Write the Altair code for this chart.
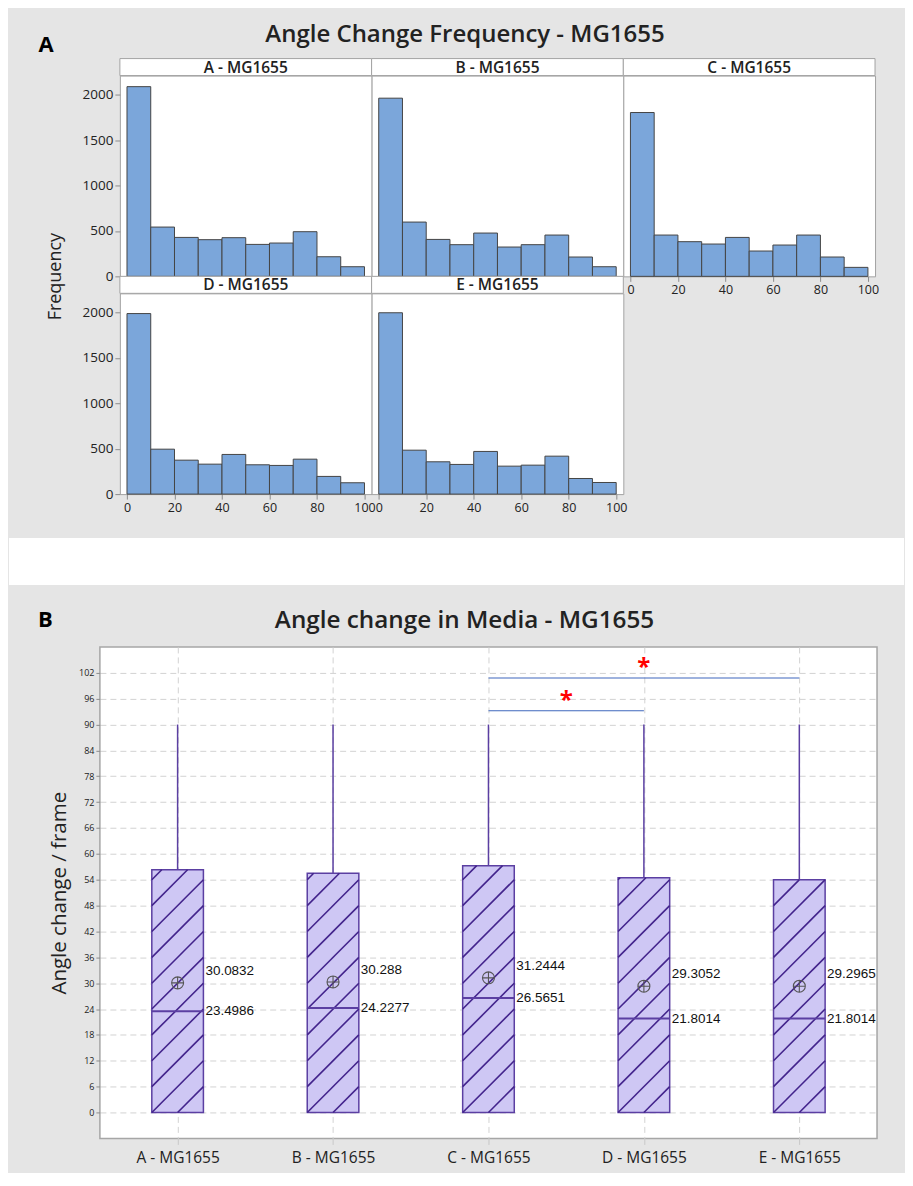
import math
import altair as alt
import pandas as pd

# ---------------- data ----------------
groups = ["A - MG1655", "B - MG1655", "C - MG1655", "D - MG1655", "E - MG1655"]

bin_starts = [0, 10, 20, 30, 40, 50, 60, 70, 80, 90]
bin_size = 10
freq_A = [2090, 543, 429, 404, 426, 352, 367, 492, 216, 106]
freq_B = [1963, 598, 407, 349, 477, 323, 349, 455, 213, 106]
freq_C = [1805, 455, 382, 356, 429, 279, 345, 455, 213, 99]
freq_D = [1989, 495, 374, 330, 437, 323, 316, 385, 195, 125]
freq_E = [1998, 484, 356, 327, 470, 308, 319, 418, 172, 128]
hist_x_ticks = [0, 20, 40, 60, 80, 100]
hist_y_ticks = [0, 500, 1000, 1500, 2000]

box_q1 = [0, 0, 0, 0, 0]
box_median = [23.4986, 24.2277, 26.5651, 21.8014, 21.8014]
box_q3 = [56.31, 55.49, 57.26, 54.46, 53.97]
box_whisker_hi = [90, 90, 90, 90, 90]
box_mean = [30.0832, 30.288, 31.2444, 29.3052, 29.2965]
box_y_ticks = list(range(0, 103, 6))

sig_from = ["C - MG1655", "C - MG1655"]
sig_to = ["D - MG1655", "E - MG1655"]
sig_level = [93.2, 100.8]
sig_label = ["*", "*"]

title_A = "Angle Change Frequency - MG1655"
title_B = "Angle change in Media - MG1655"
ytitle_A = "Frequency"
ytitle_B = "Angle change / frame"
tag_A = "A"
tag_B = "B"

# ---------------- style ----------------
BG = "#e5e5e5"
FRAME = "#a3a3a3"
BAR_FILL = "#7ba6da"
BAR_EDGE = "#444444"
BOX_FILL = "#cec7f4"
BOX_EDGE = "#5b3fa2"
HATCH = "#43248c"
GRID = "#d2d2d2"
SIG = "#3f67bd"
STAR = "#ff0000"
TXT = "#222222"
TICK = "#8c8c8c"
FONT = "Open Sans"
NUMFONT = "Liberation Sans"
CIRCLE_PLUS = "M-1,0A1,1,0,1,1,1,0A1,1,0,1,1,-1,0ZM-1,0L1,0M0,-1L0,1"
CLEAR = alt.ViewBackground(fill="transparent", stroke="transparent")

one = pd.DataFrame({"k": [0]})

# ---------------- panel A: histogram cells ----------------
CW, CH, HDR = 252, 201, 17
SP = 20  # left spacer column

freqs = [freq_A, freq_B, freq_C, freq_D, freq_E]
rows = []
for g, f in zip(groups, freqs):
    for s, c in zip(bin_starts, f):
        rows.append({"group": g, "start": s, "end": s + bin_size, "count": c})
hist_df = pd.DataFrame(rows)

xscale_h = alt.Scale(domain=[-3, 103], nice=False, zero=False)
yscale_h = alt.Scale(domain=[0, 2212], nice=False, zero=True)


def hist_cell(g, show_x, show_y):
    d = hist_df[hist_df["group"] == g]
    xax = alt.Axis(values=hist_x_ticks, title=None, domain=False, tickSize=5,
                   tickColor=TICK, labelFont=FONT, labelFontSize=12.5, labelColor=TXT,
                   labelFlush=False, labelOverlap=False, labelBound=False,
                   labelPadding=2, grid=False) if show_x else None
    yax = alt.Axis(values=hist_y_ticks, title=None, domain=False, tickSize=5,
                   tickColor=TICK, labelFont=FONT, labelFontSize=13.5, labelColor=TXT,
                   labelPadding=2, grid=False, format="d") if show_y else None
    bars = alt.Chart(d).mark_rect(fill=BAR_FILL, stroke=BAR_EDGE, strokeWidth=1).encode(
        x=alt.X("start:Q", scale=xscale_h, axis=xax),
        x2="end:Q",
        y=alt.Y("count:Q", scale=yscale_h, axis=yax),
    )
    hd = pd.DataFrame({"group": [g]})
    hrect = alt.Chart(hd).mark_rect(fill="white", stroke=FRAME, strokeWidth=1).encode(
        x=alt.value(0), x2=alt.value(CW), y=alt.value(-HDR), y2=alt.value(0))
    htext = alt.Chart(hd).mark_text(font=FONT, fontSize=15.5, fontWeight=600, color=TXT,
                                    align="center", baseline="middle").encode(
        x=alt.value(CW / 2), y=alt.value(-HDR / 2 + 0.5), text="group:N")
    return alt.layer(hrect, bars, htext).properties(
        width=CW, height=CH,
        view=alt.ViewBackground(fill="white", stroke=FRAME, strokeWidth=1))


# spacer column 1: carries panel A's tag, title and shared y title
spacer1 = alt.layer(
    alt.Chart(one).mark_rect(fill="transparent").encode(
        x=alt.value(-91), x2=alt.value(0), y=alt.value(-66), y2=alt.value(-60)),
    alt.Chart(one).mark_text(text=tag_A, font=FONT, fontSize=22, fontWeight="bold",
                             color="#000", align="center", baseline="alphabetic").encode(
        x=alt.value(-54), y=alt.value(-23.4)),
    alt.Chart(one).mark_text(text=title_A, font=FONT, fontSize=24, fontWeight=600,
                             color=TXT, align="center", baseline="alphabetic").encode(
        x=alt.value(365.5), y=alt.value(-33.4)),
    alt.Chart(one).mark_text(text=ytitle_A, font=FONT, fontSize=18, color=TXT, angle=270,
                             align="center", baseline="middle").encode(
        x=alt.value(-43.7), y=alt.value(201.3)),
).properties(width=SP, height=CH, view=CLEAR)

# spacer column 2: fixes the bottom of panel A
spacer2 = alt.Chart(one).mark_rect(fill="transparent").encode(
    x=alt.value(-91), x2=alt.value(0), y=alt.value(0), y2=alt.value(243)
).properties(width=SP, height=CH, view=CLEAR)

gridA = alt.concat(
    spacer1,
    hist_cell(groups[0], False, True),
    hist_cell(groups[1], False, False),
    hist_cell(groups[2], True, False),
    spacer2,
    hist_cell(groups[3], True, True),
    hist_cell(groups[4], True, False),
    columns=4, spacing={"row": HDR, "column": 0}, bounds="flush", align="each",
)

# ---------------- panel B boxplot ----------------
BW, BH = 778, 492
HALF = 0.166
pos = list(range(1, len(groups) + 1))
box_df = pd.DataFrame({
    "group": groups, "pos": pos, "q1": box_q1, "median": box_median,
    "q3": box_q3, "hi": box_whisker_hi, "mean": box_mean,
})
box_df["xl"] = box_df["pos"] - HALF
box_df["xr"] = box_df["pos"] + HALF
box_df["mean_txt"] = [str(v) for v in box_mean]
box_df["med_txt"] = [str(v) for v in box_median]

# diagonal hatching (45 degrees) clipped to each box
RISE, STEP = 12.0, 6.0
hrows = []
for i in range(len(groups)):
    p = pos[i]
    lo, hi = box_q1[i], box_q3[i]
    k = int(math.floor((lo - RISE) / STEP))
    while k * STEP <= hi:
        y0 = k * STEP
        t0 = max(0.0, (lo - y0) / RISE)
        t1 = min(1.0, (hi - y0) / RISE)
        if t1 > t0:
            hrows.append({"hx": p - HALF + 2 * HALF * t0, "hy": y0 + RISE * t0,
                          "hx2": p - HALF + 2 * HALF * t1, "hy2": y0 + RISE * t1})
        k += 1
hatch_df = pd.DataFrame(hrows)

idx = {g: i + 1 for i, g in enumerate(groups)}
sig_df = pd.DataFrame({
    "x1": [idx[g] for g in sig_from], "x2": [idx[g] for g in sig_to],
    "level": sig_level, "label": sig_label,
})
sig_df["xm"] = (sig_df["x1"] + sig_df["x2"]) / 2

xs = alt.Scale(domain=[0.5, 5.5], nice=False, zero=False)
ys = alt.Scale(domain=[-6, 108], nice=False, zero=False)
label_expr = "[" + ",".join("'" + g + "'" for g in groups) + "][round(datum.value) - 1]"

x_axis = alt.Axis(values=pos, labelExpr=label_expr, title=None, domain=False,
                  grid=True, gridDash=[6, 4], gridColor=GRID, gridWidth=1,
                  tickSize=6, tickColor="#c8c8c8", labelFont=FONT, labelFontSize=15.5,
                  labelColor=TXT, labelPadding=6)
y_axis = alt.Axis(values=box_y_ticks, title=ytitle_B, domain=False, grid=True,
                  gridDash=[6, 4], gridColor=GRID, gridWidth=1, tickSize=4,
                  tickColor=TICK, labelFont=FONT, labelFontSize=9, labelColor=TXT,
                  labelPadding=2, titleFont=FONT, titleFontSize=20.5,
                  titleFontWeight="normal", titleColor=TXT, titlePadding=9)


def X(field):
    return alt.X(field, scale=xs, axis=x_axis)


def Y(field):
    return alt.Y(field, scale=ys, axis=y_axis)


stripe = alt.Chart(one).mark_rect(fill="white").encode(
    x=alt.value(-91), x2=alt.value(BW + 27), y=alt.value(-109), y2=alt.value(-62))
bottom_pad = alt.Chart(one).mark_rect(fill="transparent").encode(
    x=alt.value(0), x2=alt.value(10), y=alt.value(BH), y2=alt.value(BH + 33))
tagB = alt.Chart(one).mark_text(text=tag_B, font=FONT, fontSize=22, fontWeight="bold",
                                color="#000", align="center", baseline="alphabetic").encode(
    x=alt.value(-54.5), y=alt.value(-20.3))
titleB = alt.Chart(one).mark_text(text=title_B, font=FONT, fontSize=24.3, fontWeight=600,
                                  color=TXT, align="center", baseline="alphabetic").encode(
    x=alt.value(365), y=alt.value(-18.7))

bb = alt.Chart(box_df)
whisk = bb.mark_rule(color=BOX_EDGE, strokeWidth=1.5).encode(
    x=X("pos:Q"), y=Y("q3:Q"), y2="hi:Q")
boxes = bb.mark_rect(fill=BOX_FILL, stroke=BOX_EDGE, strokeWidth=1.5).encode(
    x=X("xl:Q"), x2="xr:Q", y=Y("q1:Q"), y2="q3:Q")
hatch = alt.Chart(hatch_df).mark_rule(color=HATCH, strokeWidth=1.6).encode(
    x=X("hx:Q"), x2="hx2:Q", y=Y("hy:Q"), y2="hy2:Q")
med = bb.mark_rule(color=BOX_EDGE, strokeWidth=2).encode(
    x=X("xl:Q"), x2="xr:Q", y=Y("median:Q"))
meanpt = bb.mark_point(shape=CIRCLE_PLUS, filled=False, color="#555555",
                       strokeWidth=1.1, size=144, opacity=1).encode(
    x=X("pos:Q"), y=Y("mean:Q"))
mean_lbl = bb.mark_text(align="left", baseline="middle", dx=2, dy=-12, font=NUMFONT,
                        fontSize=13.5, color="#111111").encode(
    x=X("xr:Q"), y=Y("mean:Q"), text="mean_txt:N")
med_lbl = bb.mark_text(align="left", baseline="middle", dx=2, font=NUMFONT,
                       fontSize=13.5, color="#111111").encode(
    x=X("xr:Q"), y=Y("median:Q"), text="med_txt:N")
sig_lines = alt.Chart(sig_df).mark_rule(color=SIG, strokeWidth=1.2).encode(
    x=X("x1:Q"), x2="x2:Q", y=Y("level:Q"))
stars = alt.Chart(sig_df).mark_text(font=FONT, fontSize=24, fontWeight="bold", color=STAR,
                                    align="center", baseline="alphabetic", dy=-3).encode(
    x=X("xm:Q"), y=Y("level:Q"), text="label:N")

panelB = alt.layer(stripe, bottom_pad, tagB, titleB, whisk, boxes, hatch, med, meanpt,
                   mean_lbl, med_lbl, sig_lines, stars).properties(
    width=BW, height=BH,
    view=alt.ViewBackground(fill="white", stroke="#a6a6a6", strokeWidth=1.5))

chart = alt.vconcat(gridA, panelB, spacing=0).properties(
    background=BG, padding={"left": 0, "right": 0, "top": 0, "bottom": 0}
)

chart.save("out.html", embed_options={"renderer": "svg", "actions": False})
